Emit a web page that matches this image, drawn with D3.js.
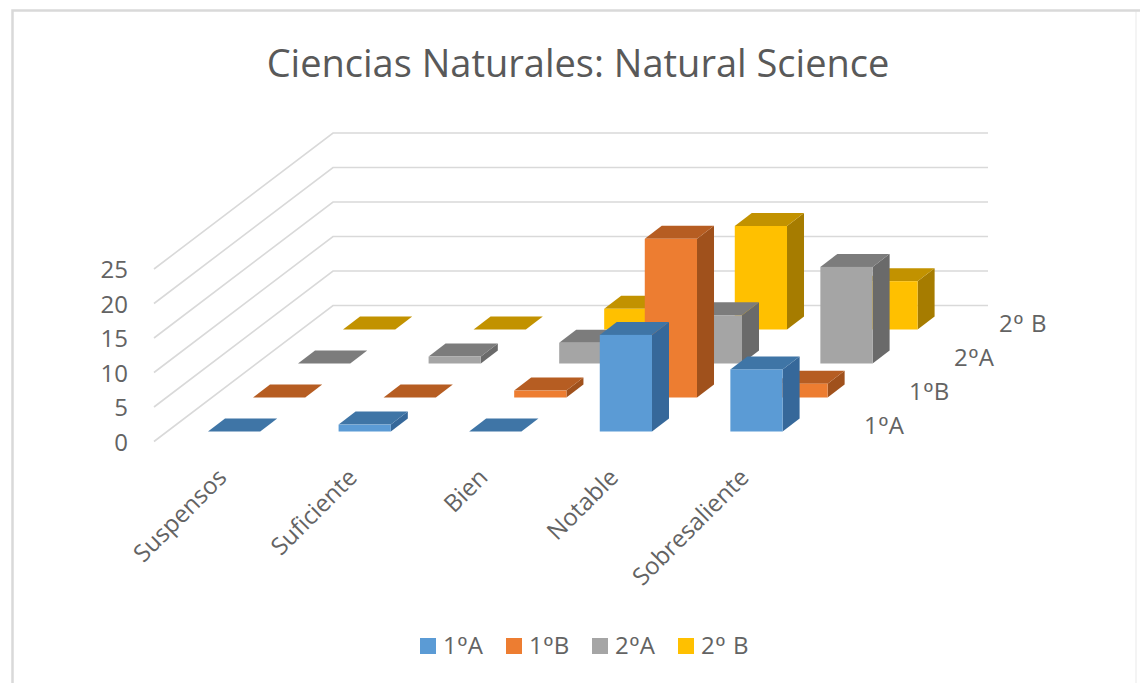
<!DOCTYPE html>
<html>
<head>
<meta charset="utf-8">
<script src="https://cdn.jsdelivr.net/npm/d3@7"></script>
<style>
  /* the ordinal sign in the picture has a bar under it, Open Sans has none */
  @font-face { font-family: "Ordinal"; src: local("Liberation Sans"); unicode-range: U+00BA; }
  body { margin: 0; background: #fff; }
  text { font-family: "Ordinal", "Open Sans", sans-serif; fill: #636363; }
  .axis path, .axis line { display: none; }
</style>
</head>
<body>
<div id="chart"></div>
<script>
// values
const categories = ["Suspensos", "Suficiente", "Bien", "Notable", "Sobresaliente"];
const seriesNames = ["1ºA", "1ºB", "2ºA", "2º B"];
const values1A = [0, 1, 0, 14, 9];
const values1B = [0, 0, 1, 23, 2];
const values2A = [0, 1, 3, 7, 14];
const values2B = [0, 0, 3, 15, 7];
const yTicks = [0, 5, 10, 15, 20, 25];

const allValues = [values1A, values1B, values2A, values2B];
const frontColors = ["#5b9bd5", "#ed7d31", "#a5a5a5", "#ffc000"];
const topColors = ["#3f75a6", "#b65d22", "#7c7c7c", "#c29200"];
const sideColors = ["#36689a", "#a0511c", "#6a6a6a", "#a67c00"];
const fontStack = '"Ordinal", "Open Sans", sans-serif';

let width = 1140,
    height = 683;

let svg = d3.select("#chart").append("svg")
    .style("display", "block")
    .attr("width", width)
    .attr("height", height);

//picture frame, right edge is barely visible
svg.append("path")
    .attr("d", "M1136,10.5V683")
    .attr("fill", "none")
    .attr("stroke", "#f4f4f4")
    .attr("stroke-width", 2);
svg.append("path")
    .attr("d", "M12.5,683V10.5H1140")
    .attr("fill", "none")
    .attr("stroke", "#d9d9d9")
    .attr("stroke-width", 2.5);

//title
svg.append("text")
    .attr("x", 578)
    .attr("y", 77)
    .attr("text-anchor", "middle")
    .attr("font-size", 38)
    .style("fill", "#595959")
    .text("Ciencias Naturales: Natural Science");

//scales
let x = d3.scaleBand().domain(categories).range([208, 782.6]).paddingInner(0.6).paddingOuter(0).align(0);
let y = d3.scaleLinear().domain([0, 25]).range([431.5, 259]);
let depthX = d3.scalePoint().domain(seriesNames).range([0, 135]);
let depthY = d3.scalePoint().domain(seriesNames).range([0, -102]);
let wallY = d3.scaleLinear().domain([0, 25]).range([305.5, 133]);
let sideY = d3.scaleLinear().domain([0, 25]).range([441.5, 269]);

//size of one bar's depth on screen
let barDepthX = 17,
    barDepthY = -13;

//walls: side line then back line for every tick
svg.append("g").selectAll("path")
    .data(yTicks)
    .enter()
    .append("path")
    .attr("d", d => d3.line()([[154, sideY(d)], [333, wallY(d)], [988, wallY(d)]]))
    .attr("fill", "none")
    .attr("stroke", "#d9d9d9")
    .attr("stroke-width", 1.6);

//bars, back series first so the front ones cover them
let bars = [];
seriesNames.forEach((s, i) => {
    categories.forEach((c, j) => {
        bars.push({ series: s, index: i, category: c, value: allValues[i][j] });
    });
});
bars.sort((a, b) => b.index - a.index);

let barG = svg.selectAll(".bar")
    .data(bars)
    .enter()
    .append("g")
    .attr("class", "bar");

function pts(d) {
    let x0 = x(d.category) + depthX(d.series);
    let x1 = x0 + x.bandwidth();
    let y0 = y(0) + depthY(d.series);
    let y1 = y(d.value) + depthY(d.series);
    return { x0, x1, y0, y1 };
}

barG.append("polygon")
    .attr("points", d => {
        let p = pts(d);
        return [[p.x1, p.y0], [p.x1 + barDepthX, p.y0 + barDepthY], [p.x1 + barDepthX, p.y1 + barDepthY], [p.x1, p.y1]].join(" ");
    })
    .attr("fill", d => sideColors[d.index]);

barG.append("polygon")
    .attr("points", d => {
        let p = pts(d);
        return [[p.x0, p.y1], [p.x1, p.y1], [p.x1 + barDepthX, p.y1 + barDepthY], [p.x0 + barDepthX, p.y1 + barDepthY]].join(" ");
    })
    .attr("fill", d => topColors[d.index]);

barG.append("rect")
    .attr("x", d => pts(d).x0)
    .attr("y", d => pts(d).y1)
    .attr("width", x.bandwidth())
    .attr("height", d => pts(d).y0 - pts(d).y1)
    .attr("fill", d => frontColors[d.index]);

//value axis
let yAxis = svg.append("g")
    .attr("class", "axis")
    .attr("transform", "translate(128,1)")
    .call(d3.axisLeft(sideY).tickValues(yTicks).tickSize(0).tickPadding(0));
yAxis.selectAll("text").attr("font-size", 24).style("font-family", fontStack);

//category axis, rotated labels
let xAxis = svg.append("g")
    .attr("class", "axis")
    .attr("transform", "translate(0,467)")
    .call(d3.axisBottom(x).tickSize(0).tickPadding(0));
xAxis.selectAll("text")
    .attr("font-size", 24)
    .style("font-family", fontStack)
    .attr("text-anchor", "end")
    .attr("dy", "0.7em")
    .attr("transform", "translate(-18,0) rotate(-45)");

//series names along the depth axis
svg.append("g").selectAll("text")
    .data(seriesNames)
    .enter()
    .append("text")
    .attr("x", d => 864 + depthX(d))
    .attr("y", d => 434 + depthY(d))
    .attr("font-size", 24)
    .attr("letter-spacing", 1)
    .text(d => d);

//legend
let legendX = d3.scalePoint().domain(seriesNames).range([420, 678]);
let legend = svg.append("g").selectAll("g")
    .data(seriesNames)
    .enter()
    .append("g")
    .attr("transform", d => `translate(${legendX(d)},638)`);
legend.append("rect")
    .attr("width", 16)
    .attr("height", 16)
    .attr("fill", (d, i) => frontColors[i]);
legend.append("text")
    .attr("x", 23)
    .attr("y", 16)
    .attr("font-size", 24)
    .attr("letter-spacing", 1)
    .text(d => d);
</script>
</body>
</html>
